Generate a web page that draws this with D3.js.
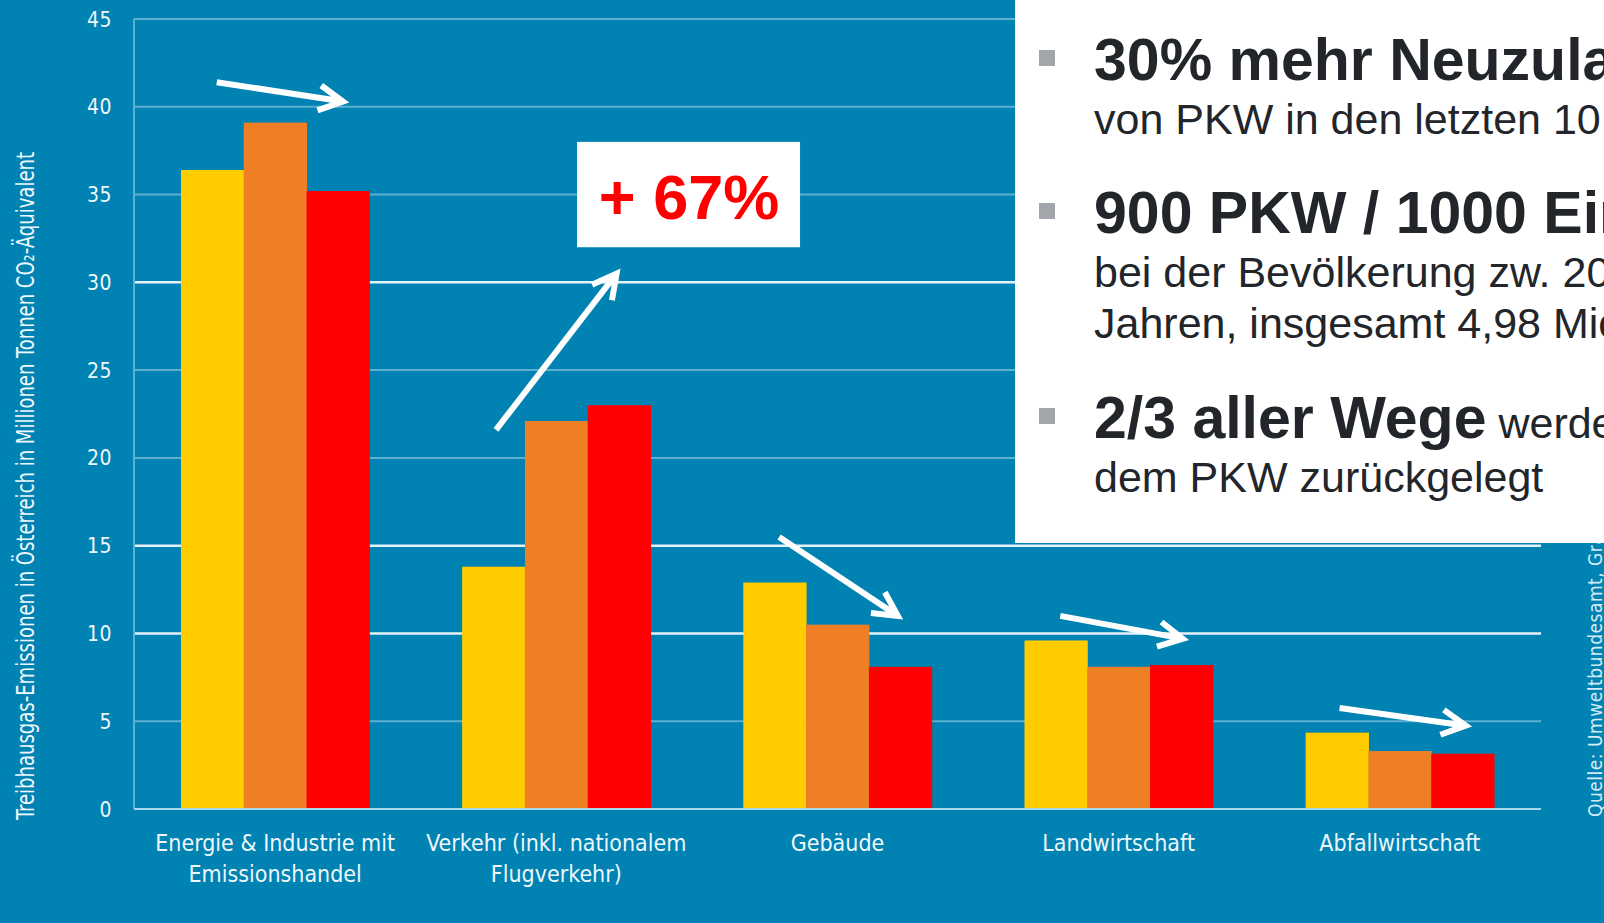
<!DOCTYPE html>
<html>
<head>
<meta charset="utf-8">
<script src="https://cdn.jsdelivr.net/npm/d3@7"></script>
<style>
  body { margin: 0; overflow: hidden; background: #0082b2; }
</style>
</head>
<body>
<div id="chart"></div>
<script>
// categories (line breaks as in the picture)
const categories = [
	"Energie & Industrie mit\nEmissionshandel",
	"Verkehr (inkl. nationalem\nFlugverkehr)",
	"Gebäude",
	"Landwirtschaft",
	"Abfallwirtschaft"
];

// three periods per category: yellow, orange, red
const seriesKeys = ["first", "middle", "last"];
const valuesFirst = [36.4, 13.8, 12.9, 9.6, 4.35];
const valuesMiddle = [39.1, 22.1, 10.5, 8.1, 3.3];
const valuesLast = [35.2, 23.0, 8.1, 8.2, 3.15];
const seriesColors = ["#ffcc00", "#ef7f24", "#ff0000"];

const yTicks = [0, 5, 10, 15, 20, 25, 30, 35, 40, 45];
const brightTicks = [10, 15, 30];

// trend arrows: category, start/end as fraction of the group, start/end value
const arrows = [
	["Energie & Industrie mit\nEmissionshandel", 0.19, 41.4, 0.86, 40.3],
	["Verkehr (inkl. nationalem\nFlugverkehr)", 0.18, 21.6, 0.82, 30.5],
	["Gebäude", 0.19, 15.5, 0.82, 11.0],
	["Landwirtschaft", 0.19, 11.0, 0.84, 9.7],
	["Abfallwirtschaft", 0.18, 5.75, 0.85, 4.75]
];

const bullets = [
	{ bold: "30% mehr Neuzulassungen", rest: "", lines: ["von PKW in den letzten 10 Jahren"] },
	{ bold: "900 PKW / 1000 Einwohner", rest: "", lines: ["bei der Bevölkerung zw. 20 und 64", "Jahren, insgesamt 4,98 Mio. PKW"] },
	{ bold: "2/3 aller Wege", rest: " werden mit", lines: ["dem PKW zurückgelegt"] }
];

const width = 1604, height = 923;
const condensed = "'DejaVu Sans Condensed', 'Liberation Sans Narrow', 'Liberation Sans', sans-serif";

const svg = d3.select('#chart')
	.append('svg')
	.attr('width', width)
	.attr('height', height);

svg.append('rect')
	.attr('width', width)
	.attr('height', height)
	.attr('fill', '#0082b2');

const x = d3.scaleBand()
	.domain(categories)
	.range([134, 1541])
	.paddingInner(0.33)
	.paddingOuter(0.167);

const xs = d3.scaleBand()
	.domain(seriesKeys)
	.range([0, x.bandwidth()]);

const y = d3.scaleLinear()
	.domain([0, 45])
	.range([809, 19]);

// grid
svg.append('g')
	.selectAll('line')
	.data(yTicks.filter(d => d > 0))
	.join('line')
	.attr('x1', 134)
	.attr('x2', 1541)
	.attr('y1', d => y(d))
	.attr('y2', d => y(d))
	.attr('stroke', d => brightTicks.includes(d) ? '#e4f2f8' : '#5eaed0')
	.attr('stroke-width', d => brightTicks.includes(d) ? 2.5 : 2);

svg.append('line')
	.attr('x1', 134).attr('x2', 134)
	.attr('y1', y(45)).attr('y2', y(0))
	.attr('stroke', '#5eaed0')
	.attr('stroke-width', 2);

svg.append('g')
	.selectAll('text')
	.data(yTicks)
	.join('text')
	.text(d => d)
	.attr('x', 112)
	.attr('y', d => y(d))
	.attr('dy', '0.36em')
	.attr('text-anchor', 'end')
	.attr('fill', '#eef7fb')
	.attr('font-family', condensed)
	.attr('font-size', '21px')
	.attr('letter-spacing', '0.5px');

// bars
const table = categories.map((c, i) => ({
	cat: c,
	vals: [valuesFirst[i], valuesMiddle[i], valuesLast[i]]
}));

svg.append('g')
	.selectAll('g')
	.data(table)
	.join('g')
	.attr('transform', d => `translate(${x(d.cat)},0)`)
	.selectAll('rect')
	.data(d => d.vals.map((v, j) => ({ key: seriesKeys[j], v: v, color: seriesColors[j] })))
	.join('rect')
	.attr('x', d => xs(d.key))
	.attr('width', xs.bandwidth() + 0.5)
	.attr('y', d => y(d.v))
	.attr('height', d => y(0) - y(d.v))
	.attr('fill', d => d.color);

// baseline
svg.append('line')
	.attr('x1', 134).attr('x2', 1541)
	.attr('y1', y(0)).attr('y2', y(0))
	.attr('stroke', '#a8d6ea')
	.attr('stroke-width', 2);

// category labels
svg.append('g')
	.selectAll('text')
	.data(categories)
	.join('text')
	.attr('x', d => x(d) + x.bandwidth() / 2)
	.attr('y', 851)
	.attr('text-anchor', 'middle')
	.attr('fill', '#eef7fb')
	.attr('font-family', condensed)
	.attr('font-size', '23px')
	.selectAll('tspan')
	.data(d => d.split('\n'))
	.join('tspan')
	.attr('x', function () { return d3.select(this.parentNode).attr('x'); })
	.attr('dy', (d, i) => i === 0 ? 0 : 31)
	.text(d => d);

// y title
svg.append('text')
	.text('Treibhausgas-Emissionen in Österreich in Millionen Tonnen CO\u2082-Äquivalent')
	.attr('transform', 'translate(34,486) rotate(-90)')
	.attr('text-anchor', 'middle')
	.attr('fill', '#eef7fb')
	.attr('font-family', condensed)
	.attr('font-size', '24px')
	.attr('textLength', 668)
	.attr('lengthAdjust', 'spacingAndGlyphs');

// source
svg.append('text')
	.text('Quelle: Umweltbundesamt, Grafik: VCÖ 2014')
	.attr('transform', 'translate(1602,817) rotate(-90)')
	.attr('fill', '#d4ebf4')
	.attr('font-family', condensed)
	.attr('font-size', '19px')
	.attr('letter-spacing', '0.5px');

// arrows
function arrowPath(x0, y0, x1, y1) {
	const ang = Math.atan2(y1 - y0, x1 - x0);
	const len = 27, spread = Math.PI / 6.5;
	const a1x = x1 - len * Math.cos(ang - spread), a1y = y1 - len * Math.sin(ang - spread);
	const a2x = x1 - len * Math.cos(ang + spread), a2y = y1 - len * Math.sin(ang + spread);
	return `M${x0},${y0}L${x1 - 3 * Math.cos(ang)},${y1 - 3 * Math.sin(ang)}M${a1x},${a1y}L${x1},${y1}L${a2x},${a2y}`;
}

svg.append('g')
	.selectAll('path')
	.data(arrows)
	.join('path')
	.attr('d', d => arrowPath(
		x(d[0]) + d[1] * x.bandwidth(), y(d[2]),
		x(d[0]) + d[3] * x.bandwidth(), y(d[4])))
	.attr('fill', 'none')
	.attr('stroke', '#ffffff')
	.attr('stroke-width', 6)
	.attr('stroke-linejoin', 'miter');

// +67% label
const boxX = x(categories[1]) + 0.61 * x.bandwidth();
svg.append('rect')
	.attr('x', boxX)
	.attr('y', y(38))
	.attr('width', 223)
	.attr('height', y(32) - y(38))
	.attr('fill', '#ffffff');

svg.append('text')
	.text('+ 67%')
	.attr('x', boxX + 112)
	.attr('y', 219)
	.attr('text-anchor', 'middle')
	.attr('fill', '#ff0000')
	.attr('font-family', "'Liberation Sans', Arial, sans-serif")
	.attr('font-weight', 'bold')
	.attr('font-size', '63px');

// white text panel
svg.append('rect')
	.attr('x', 1015)
	.attr('y', 0)
	.attr('width', width - 1015)
	.attr('height', 543)
	.attr('fill', '#ffffff');

const bulletTop = [50, 203, 408];
const boldBase = [80, 233, 438];
const panel = svg.append('g')
	.attr('font-family', "'Liberation Sans', Arial, sans-serif")
	.attr('fill', '#222529');

bullets.forEach((b, i) => {
	panel.append('rect')
		.attr('x', 1039)
		.attr('y', bulletTop[i])
		.attr('width', 16)
		.attr('height', 16)
		.attr('fill', '#a2a5a9');

	let t = panel.append('text')
		.attr('x', 1094)
		.attr('y', boldBase[i]);
	t.append('tspan')
		.text(b.bold)
		.attr('font-weight', 'bold')
		.attr('font-size', '59px');
	if (b.rest) {
		t.append('tspan')
			.text(b.rest)
			.attr('font-size', '43px');
	}

	b.lines.forEach((line, k) => {
		panel.append('text')
			.text(line)
			.attr('x', 1094)
			.attr('y', boldBase[i] + 54 + k * 51)
			.attr('font-size', '43px');
	});
});
</script>
</body>
</html>
